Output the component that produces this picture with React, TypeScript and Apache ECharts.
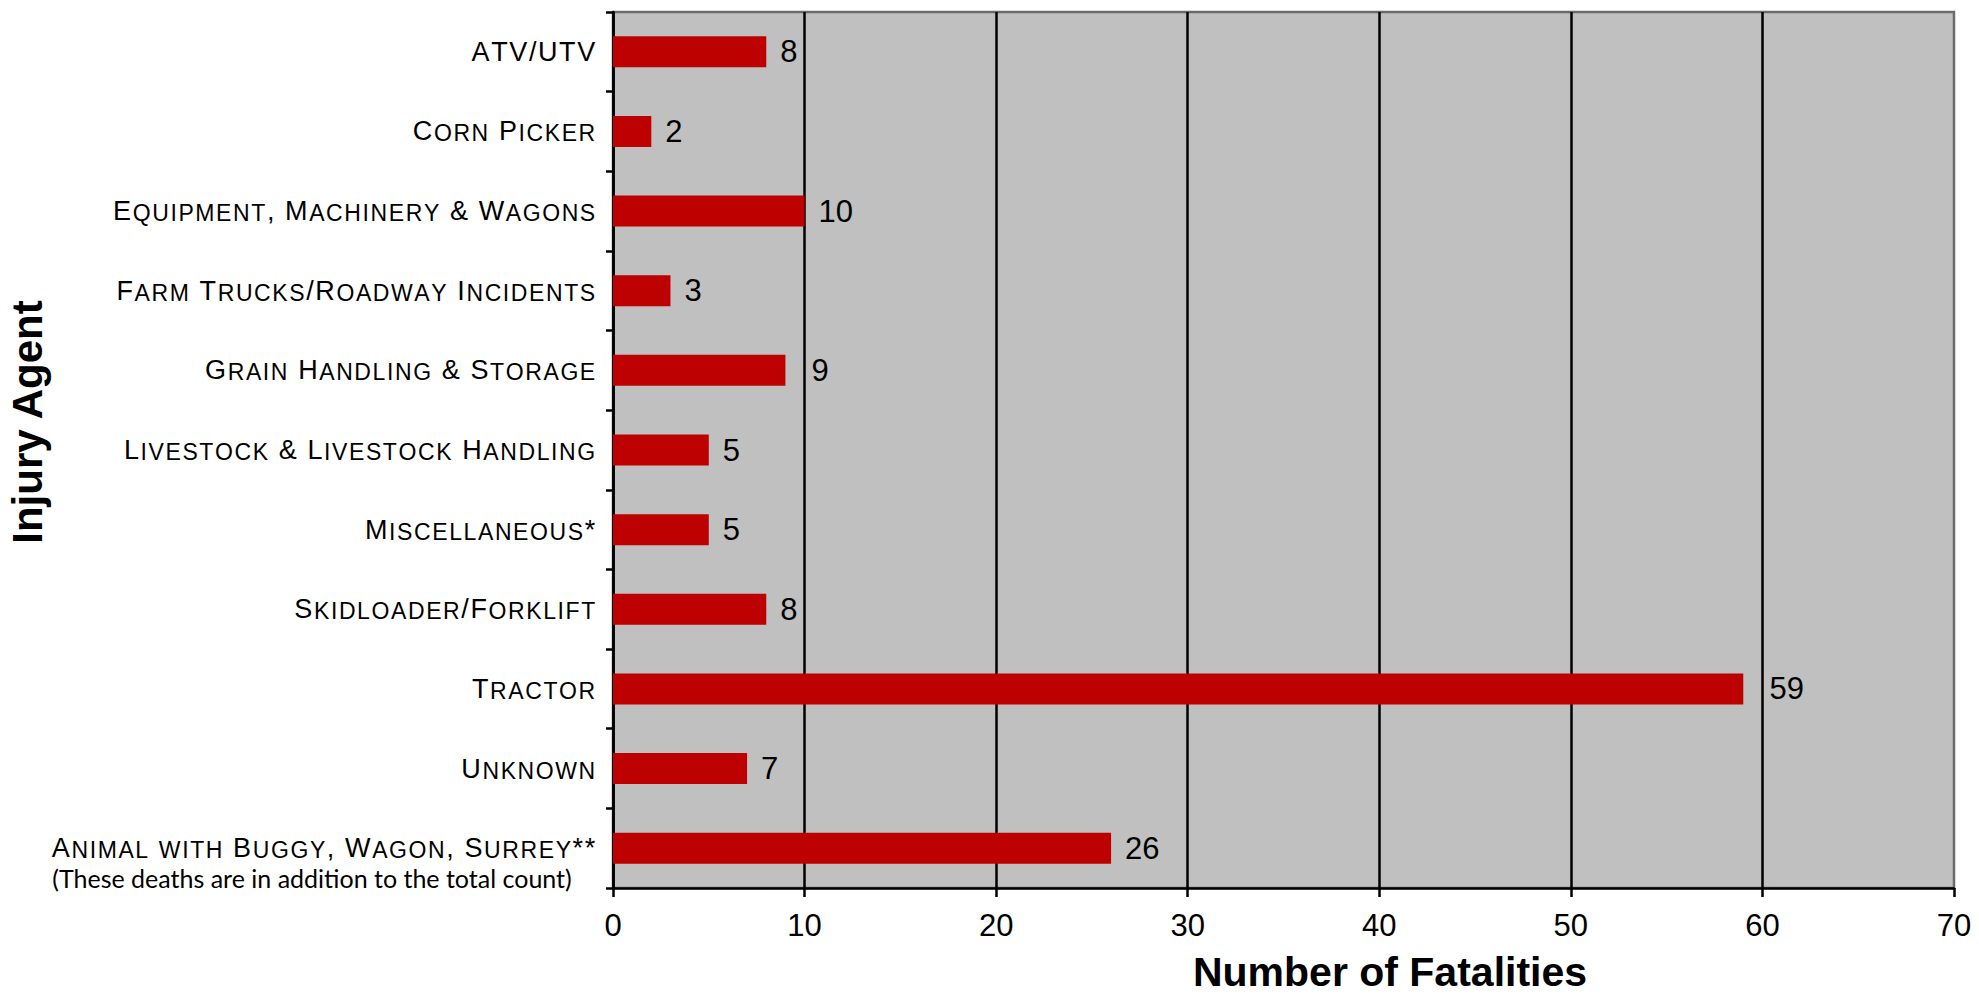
import React, { useEffect, useRef } from 'react';
import * as echarts from 'echarts';

const categories = [
  'ATV/UTV',
  'Corn Picker',
  'Equipment, Machinery & Wagons',
  'Farm Trucks/Roadway Incidents',
  'Grain Handling & Storage',
  'Livestock & Livestock Handling',
  'Miscellaneous*',
  'Skidloader/Forklift',
  'Tractor',
  'Unknown',
  'Animal with Buggy, Wagon, Surrey**',
];
const fatalities = [8, 2, 10, 3, 9, 5, 5, 8, 59, 7, 26];
const xMin = 0;
const xMax = 70;
const xInterval = 10;
const footnote = '(These deaths are in addition to the total count)';
const xTitle = 'Number of Fatalities';
const yTitle = 'Injury Agent';

const ARIAL = '"Liberation Sans", Arial, sans-serif';

const W = 1979;
const H = 995;
const GRID_LEFT = 613;
const GRID_RIGHT = 25;
const LABEL_FONT = 31;
const LABEL_DIST = 14;

function smallCaps(s: string): string {
  let out = '';
  for (const ch of s) {
    if (ch >= 'a' && ch <= 'z') out += `{s|${ch.toUpperCase()}}`;
    else out += `{b|${ch}}`;
  }
  return out;
}

// Like the original, value labels that would sit on a gridline are nudged past it.
function barData() {
  const pxPerUnit = (W - GRID_LEFT - GRID_RIGHT) / (xMax - xMin);
  return fatalities.map((v) => {
    const end = (v - xMin) * pxPerUnit;
    const start = end + LABEL_DIST;
    const width = String(v).length * 0.556 * LABEL_FONT;
    let dist = LABEL_DIST;
    for (let g = xMin + xInterval; g < xMax; g += xInterval) {
      const gx = (g - xMin) * pxPerUnit;
      if (gx > end + 2 && gx >= start - 3 && gx <= start + width) {
        dist = gx + 7 - end;
      }
    }
    return dist === LABEL_DIST ? v : { value: v, label: { distance: dist } };
  });
}

export default function App() {
  const ref = useRef<HTMLDivElement>(null);
  useEffect(() => {
    if (!ref.current) return;
    const chart = echarts.init(ref.current, undefined, { renderer: 'svg' });
    chart.setOption({
      animation: false,
      backgroundColor: '#ffffff',
      grid: {
        left: GRID_LEFT,
        right: GRID_RIGHT,
        top: 12,
        bottom: 107,
        containLabel: false,
        show: true,
        backgroundColor: '#C0C0C0',
        borderColor: '#6B6B6B',
        borderWidth: 2.5,
      },
      xAxis: {
        type: 'value',
        min: xMin,
        max: xMax,
        interval: xInterval,
        axisLine: { show: true, lineStyle: { color: '#000', width: 2.5 } },
        axisTick: { show: true, length: 9, lineStyle: { color: '#000', width: 2.5 } },
        splitLine: { show: true, showMaxLine: false, lineStyle: { color: '#000', width: 2.5 } },
        axisLabel: { fontSize: LABEL_FONT, color: '#000', fontFamily: ARIAL, margin: 22 },
      },
      yAxis: {
        type: 'category',
        inverse: true,
        data: categories,
        axisLine: { show: true, lineStyle: { color: '#000', width: 2.5 } },
        axisTick: { show: true, length: 7, interval: 0, lineStyle: { color: '#000', width: 2.5 } },
        splitLine: { show: false },
        axisLabel: {
          interval: 0,
          margin: 17,
          formatter: (v: string) => smallCaps(v),
          rich: {
            b: {
              fontSize: 27,
              lineHeight: 27,
              fontFamily: ARIAL,
              color: '#000',
              padding: [0, 0.8, 0, 0.8],
              verticalAlign: 'bottom',
            },
            s: {
              fontSize: 23,
              lineHeight: 23,
              fontFamily: ARIAL,
              color: '#000',
              padding: [0, 0.8, 0, 0.8],
              verticalAlign: 'bottom',
            },
          },
        },
      },
      series: [
        {
          type: 'bar',
          data: barData(),
          barWidth: 31,
          itemStyle: { color: '#BD0000' },
          label: {
            show: true,
            position: 'right',
            distance: LABEL_DIST,
            fontSize: LABEL_FONT,
            color: '#000',
            fontFamily: ARIAL,
          },
        },
      ],
      graphic: [
        {
          type: 'text',
          x: 27,
          y: 422,
          rotation: Math.PI / 2,
          style: {
            text: yTitle,
            fontSize: 42,
            fontWeight: 'bold',
            fontFamily: ARIAL,
            fill: '#000',
            align: 'center',
            verticalAlign: 'middle',
            textAlign: 'center',
            textVerticalAlign: 'middle',
          },
        },
        {
          type: 'text',
          x: 1390,
          y: 972,
          style: {
            text: xTitle,
            fontSize: 41,
            fontWeight: 'bold',
            fontFamily: ARIAL,
            fill: '#000',
            align: 'center',
            verticalAlign: 'middle',
            textAlign: 'center',
            textVerticalAlign: 'middle',
          },
        },
        {
          type: 'text',
          x: 312,
          y: 878,
          style: {
            text: footnote,
            fontSize: 25,
            fontFamily: 'Lato, "Open Sans", sans-serif',
            fill: '#000',
            align: 'center',
            verticalAlign: 'middle',
            textAlign: 'center',
            textVerticalAlign: 'middle',
          },
        },
      ],
    });
    return () => chart.dispose();
  }, []);
  return (
    <div
      ref={ref}
      style={{ position: 'absolute', left: 0, top: 0, width: W, height: H }}
    />
  );
}
